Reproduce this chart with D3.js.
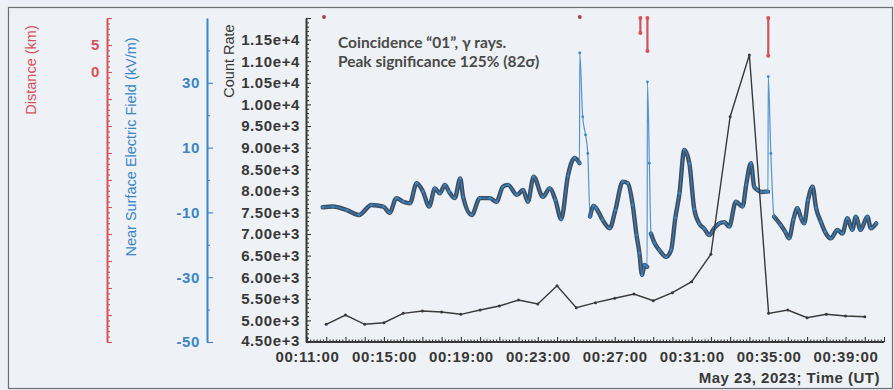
<!DOCTYPE html>
<html>
<head>
<meta charset="utf-8">
<script src="https://cdn.jsdelivr.net/npm/d3@7"></script>
<style>
  html, body { margin: 0; padding: 0; background: #edf0f4; }
  svg { display: block; }
</style>
</head>
<body>
<svg id="chart" width="894" height="390"></svg>
<script>
// ---- data ---------------------------------------------------------------
// gamma-ray coincidence count rate, one value per minute
const countTimes = ["00:12:00","00:13:00","00:14:00","00:15:00","00:16:00","00:17:00","00:18:00",
  "00:19:00","00:20:00","00:21:00","00:22:00","00:23:00","00:24:00","00:25:00","00:26:00",
  "00:27:00","00:28:00","00:29:00","00:30:00","00:31:00","00:32:00","00:33:00","00:34:00",
  "00:35:00","00:36:00","00:37:00","00:38:00","00:39:00","00:40:00"];
const countValues = [4910, 5125, 4910, 4947, 5164, 5218, 5194, 5141, 5241, 5333, 5472, 5380, 5803,
  5294, 5410, 5512, 5611, 5456, 5641, 5896, 6530, 9715, 11144, 5164, 5241, 5063, 5141, 5102, 5086];

// near-surface electric field (kV/m)
const fieldTimes = ["00:11:49","00:12:21","00:13:04","00:13:42","00:14:21","00:14:58","00:15:18",
  "00:15:39","00:16:00","00:16:21","00:16:42","00:17:02","00:17:21","00:17:39","00:17:54",
  "00:18:10","00:18:23","00:18:41","00:18:58","00:19:07","00:19:34","00:19:59","00:20:30",
  "00:20:51","00:21:11","00:21:27","00:21:55","00:22:14","00:22:29","00:22:47","00:23:16",
  "00:23:37","00:23:55","00:24:13","00:24:34","00:24:55","00:25:10","00:25:11","00:25:20",
  "00:25:29","00:25:36","00:25:43","00:25:54","00:26:02","00:26:22","00:26:44","00:27:02",
  "00:27:25","00:27:41","00:27:56","00:28:08","00:28:17","00:28:25","00:28:33","00:28:41",
  "00:28:42","00:28:48","00:28:53","00:29:04","00:29:19","00:29:40","00:29:56","00:30:09",
  "00:30:22","00:30:37","00:30:53","00:31:08","00:31:24","00:31:39","00:31:55","00:32:11",
  "00:32:26","00:32:42","00:32:57","00:33:18","00:33:39","00:33:50","00:34:05","00:34:15",
  "00:34:25","00:34:37","00:34:51","00:34:58","00:34:59","00:35:07","00:35:17","00:35:38",
  "00:35:52","00:36:04","00:36:17","00:36:30","00:36:41","00:36:51","00:37:03","00:37:17",
  "00:37:28","00:37:43","00:37:56","00:38:14","00:38:35","00:38:50","00:39:06","00:39:21",
  "00:39:32","00:39:47","00:40:08","00:40:19","00:40:36"];
const fieldValues = [-8.4, -8.2, -9.3, -10.8, -7.7, -8.2, -10.1,
  -5.6, -6.7, -7.2, -1.0, -3.6, -8.2, -2.6, -4.1,
  -1.5, -3.6, -5.6, 0.5, -5.2, -10.8, -5.6, -5.6,
  -6.7, -2.1, -1.5, -4.6, -3.1, -6.7, 1.0, -5.2,
  -2.6, -6.2, -12.1, 1.3, 6.8, 5.2, 39.2, 19.5,
  13.9, 8.2, -11.3, -8.0, -8.7, -12.3, -14.9, -9.3,
  -0.5, -1.0, -7.7, -17.0, -22.6, -29.3, -26.2, -26.8,
  30.3, 5.2, -16.5, -19.4, -21.6, -23.7, -21.6, -11.7,
  -4.1, 9.3, 5.0, -9.0, -13.5, -15.0, -17.0, -14.8,
  -13.4, -13.0, -14.4, -6.7, -8.2, -1.5, 5.2, -2.1,
  -3.1, -3.7, -3.6, -3.6, 31.9, 8.2, -11.3, -13.9,
  -16.0, -18.0, -12.3, -8.7, -11.7, -13.4, -6.2, -2.1,
  -8.6, -12.9, -16.0, -18.0, -15.4, -16.5, -11.8, -15.4,
  -11.3, -15.4, -11.3, -14.9, -13.4];

// lightning flashes: time and distance span (km)
const flashTimes = ["00:11:53", "00:25:11", "00:28:20", "00:28:42", "00:34:59"];
const flashFar   = [10, 10, 10, 10, 10];
const flashNear  = [10, 10, 7.2, 3.9, 3.0];

// axis tick labels
const countTickValues = [4500, 5000, 5500, 6000, 6500, 7000, 7500, 8000, 8500, 9000,
  9500, 10000, 10500, 11000, 11500];
const fieldTickValues = [30, 10, -10, -30, -50];
const fieldMinorTicks = [40, 20, 0, -20, -40];
const distTickValues = [5, 0];
const timeTickLabels = ["00:11:00","00:15:00","00:19:00","00:23:00","00:27:00",
  "00:31:00","00:35:00","00:39:00"];

const annotationLines = ["Coincidence \u201C01\u201D, \u03B3 rays.", "Peak significance 125% (82\u03C3)"];
const timeTitle = "May 23, 2023; Time (UT)";

// ---- layout -------------------------------------------------------------
const W = 894, H = 390;
const plotTop = 18, plotBottom = 342, plotLeft = 307, plotRight = 884;
const distAxisX = 107, fieldAxisX = 207, countAxisX = 306;

const RED = "#d4525d", BLUE = "#3a85c8", INK = "#383838";
const tickFont = "'Liberation Sans', Arial, sans-serif";

const parse = d3.timeParse("%H:%M:%S");
const svg = d3.select("#chart");

const x = d3.scaleTime().domain([parse("00:11:00"), parse("00:41:00")]).range([plotLeft, plotRight]);
const yCount = d3.scaleLinear().domain([4500, 12000]).range([plotBottom, plotTop]);
const yField = d3.scaleLinear().domain([-50, 50]).range([plotBottom, plotTop]);
const yDist = d3.scaleLinear().domain([-50, 10]).range([plotBottom, plotTop]);

// background and frame
svg.append("rect").attr("width", W).attr("height", H).attr("fill", "#edf0f4");
svg.append("rect").attr("x", 8.5).attr("y", 7.5).attr("width", W - 10).attr("height", H - 9)
  .attr("fill", "#eef1f5").attr("stroke", "#6e6e6e").attr("stroke-width", 1.2);

function styleAxis(g, color, width) {
  g.select(".domain").attr("stroke", color).attr("stroke-width", width);
  g.selectAll(".tick line").attr("stroke", color).attr("stroke-width", 1.1);
  g.selectAll(".tick text").attr("fill", color)
    .attr("font-family", tickFont).attr("font-weight", "bold").attr("font-size", 15)
    .attr("letter-spacing", 0.6);
}

// distance axis (red)
const distAll = d3.range(-50, 11, 1);
const gDist = svg.append("g").attr("transform", `translate(${distAxisX},0)`)
  .call(d3.axisLeft(yDist).tickValues(distAll).tickSizeOuter(0).tickSizeInner(-3).tickPadding(7)
    .tickFormat(d => distTickValues.includes(d) ? d : ""));
gDist.selectAll(".tick line").attr("x2", d => d % 5 === 0 ? 5 : 3);
styleAxis(gDist, RED, 2);

// electric field axis (blue)
const gField = svg.append("g").attr("transform", `translate(${fieldAxisX},0)`)
  .call(d3.axisLeft(yField).tickValues(fieldTickValues.concat(fieldMinorTicks))
    .tickSizeOuter(0).tickSizeInner(-5).tickPadding(7)
    .tickFormat(d => fieldTickValues.includes(d) ? d : ""));
gField.selectAll(".tick line").attr("x2", d => fieldTickValues.includes(d) ? 6 : 3);
styleAxis(gField, BLUE, 2);

// count rate axis (black)
const countMinor = d3.range(4500, 12001, 100);
const gCount = svg.append("g").attr("transform", `translate(${countAxisX},0)`)
  .call(d3.axisLeft(yCount).tickValues(countMinor).tickSizeOuter(0).tickSizeInner(-3).tickPadding(6)
    .tickFormat(d => countTickValues.includes(d) ? d3.format(".2e")(d) : ""));
gCount.selectAll(".tick line").attr("x2", d => d % 500 === 0 ? 5 : 3);
styleAxis(gCount, INK, 2);
gCount.selectAll(".tick text").attr("dy", d => d === 4500 ? "0.2em" : "0.32em");

// time axis
const tenSecTicks = d3.timeSecond.every(10).range(parse("00:11:00"), parse("00:41:01"));
const gTime = svg.append("g").attr("transform", `translate(0,${plotBottom})`)
  .call(d3.axisBottom(x).tickValues(tenSecTicks).tickSizeOuter(0).tickSizeInner(-2).tickPadding(9)
    .tickFormat(d => {
      const s = d3.timeFormat("%H:%M:%S")(d);
      return timeTickLabels.includes(s) ? s : "";
    }));
gTime.selectAll(".tick line").attr("y2", d => d.getSeconds() === 0 ? -5 : -2.5);
styleAxis(gTime, INK, 2);
gTime.select(".domain").attr("d", `M${countAxisX},0H${plotRight}`);

// axis titles
function vTitle(text, cx, cy, color) {
  svg.append("text").attr("transform", `translate(${cx},${cy}) rotate(-90)`)
    .attr("text-anchor", "middle").attr("dominant-baseline", "central")
    .attr("font-family", tickFont).attr("font-size", 14.5).attr("fill", color)
    .text(text);
}
vTitle("Distance (km)", 31, 70, RED);
vTitle("Near Surface Electric Field (kV/m)", 131, 147, BLUE);
vTitle("Count Rate", 229, 61, INK);

svg.append("text").attr("x", plotRight - 4).attr("y", 383).attr("text-anchor", "end")
  .attr("font-family", tickFont).attr("font-weight", "bold").attr("font-size", 15)
  .attr("letter-spacing", 0.5).attr("fill", INK).text(timeTitle);

// annotation
svg.append("g").selectAll("text").data(annotationLines).join("text")
  .attr("x", 338).attr("y", (d, i) => 48 + i * 19)
  .attr("font-family", "Lato, 'Open Sans', sans-serif").attr("font-weight", "bold")
  .attr("font-size", 15.5).attr("fill", "#4a4a4a").text(d => d);

// ---- electric field -----------------------------------------------------
const field = fieldTimes.map((t, i) => ({ t: parse(t), v: fieldValues[i] }));
const fieldLine = d3.line().x(d => x(d.t)).y(d => yField(d.v)).curve(d3.curveMonotoneX);

// slow-varying stretches drawn as a heavy trace; flash jumps and their
// strongly positive recovery stay thin
const runs = [];
let run = [field[0]];
for (let i = 1; i < field.length; i++) {
  const a = field[i - 1], b = field[i];
  const rate = Math.abs(b.v - a.v) / ((b.t - a.t) / 1000);
  const fast = rate > 1.2 || (rate > 0.5 && Math.max(a.v, b.v) > 12);
  if (fast) { if (run.length > 1) runs.push(run); run = [b]; }
  else run.push(b);
}
if (run.length > 1) runs.push(run);

svg.append("g").selectAll("path").data(runs).join("path")
  .attr("d", fieldLine).attr("fill", "none").attr("stroke", "#3e4f61")
  .attr("stroke-width", 4.4).attr("stroke-linejoin", "round").attr("stroke-linecap", "round");
svg.append("path").datum(field).attr("d", fieldLine).attr("fill", "none")
  .attr("stroke", BLUE).attr("stroke-width", 1.2).attr("stroke-opacity", 0.85);
svg.append("g").selectAll("circle").data(field).join("circle")
  .attr("cx", d => x(d.t)).attr("cy", d => yField(d.v)).attr("r", 1.4)
  .attr("fill", BLUE);

// ---- count rate ---------------------------------------------------------
const counts = countTimes.map((t, i) => ({ t: parse(t), v: countValues[i] }));
svg.append("path").datum(counts)
  .attr("d", d3.line().x(d => x(d.t)).y(d => yCount(d.v)))
  .attr("fill", "none").attr("stroke", "#3a3a3a").attr("stroke-width", 1.4);
svg.append("g").selectAll("circle").data(counts).join("circle")
  .attr("cx", d => x(d.t)).attr("cy", d => yCount(d.v)).attr("r", 1.5).attr("fill", "#3a3a3a");

// ---- lightning flashes --------------------------------------------------
const flashes = flashTimes.map((t, i) => ({ t: parse(t), far: flashFar[i], near: flashNear[i] }));
const gFlash = svg.append("g");
gFlash.selectAll("line").data(flashes.filter(f => f.far !== f.near)).join("line")
  .attr("x1", d => x(d.t)).attr("x2", d => x(d.t))
  .attr("y1", d => yDist(d.far)).attr("y2", d => yDist(d.near))
  .attr("stroke", RED).attr("stroke-width", 2.2);
gFlash.selectAll("circle.end").data(flashes.filter(f => f.far !== f.near)
    .flatMap(f => [{ t: f.t, v: f.far }, { t: f.t, v: f.near }]))
  .join("circle").attr("class", "end")
  .attr("cx", d => x(d.t)).attr("cy", d => yDist(d.v)).attr("r", 2).attr("fill", RED);
gFlash.selectAll("circle.pt").data(flashes.filter(f => f.far === f.near))
  .join("circle").attr("class", "pt")
  .attr("cx", d => x(d.t)).attr("cy", d => yDist(d.far) - 1).attr("r", 2).attr("fill", "#a84452");
</script>
</body>
</html>
